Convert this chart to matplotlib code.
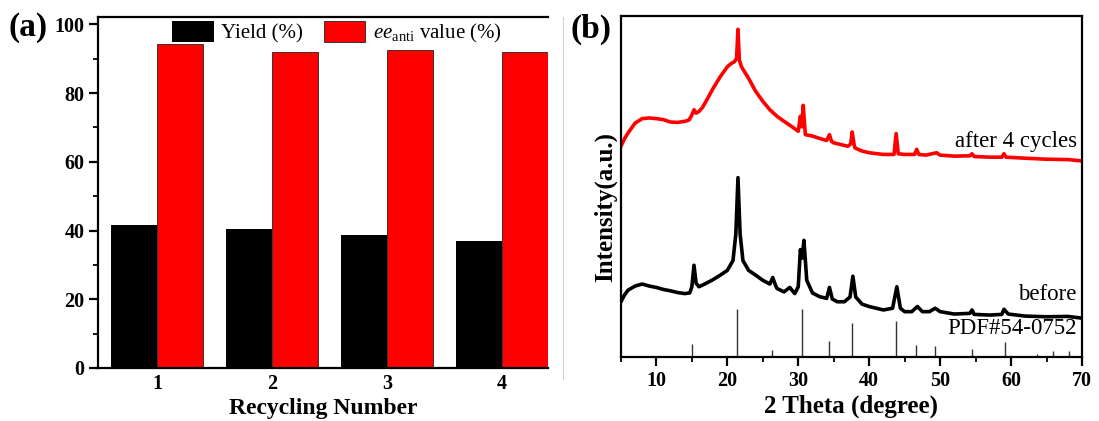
import matplotlib
matplotlib.use('Agg')
import matplotlib.pyplot as plt
from matplotlib.ticker import MultipleLocator
import numpy as np

plt.rcParams['font.family'] = ['Liberation Serif', 'DejaVu Serif']
plt.rcParams['mathtext.fontset'] = 'custom'
plt.rcParams['mathtext.rm'] = 'Liberation Serif'
plt.rcParams['mathtext.it'] = 'Liberation Serif:italic'

# Recycling data
cycles = [1, 2, 3, 4]
yield_pct = [41.7, 40.4, 38.7, 36.9]
ee_anti = [94.2, 92.0, 92.6, 92.0]

# XRD pattern after 4 cycles (2 theta, a.u.)
after_2theta = [5, 5.5, 6, 7, 8, 9, 10, 11, 12, 13, 14, 14.6, 15, 15.3, 15.6, 16, 16.5, 17,
                18, 19, 20, 20.5, 21, 21.3, 21.5, 21.7, 22, 23, 24, 25, 26, 27, 28, 29, 30,
                30.3, 30.5, 30.7, 31, 32, 33, 34, 34.4, 34.7, 35, 36, 37, 37.4, 37.6, 37.9,
                38, 39, 40, 42, 43.5, 43.8, 44.1, 45, 46.4, 46.7, 47, 48, 49.5, 50, 52,
                54.2, 54.5, 54.8, 57, 58.7, 59, 59.3, 62, 65, 68, 70]
after_int = [61.8, 64.0, 65.7, 68.6, 69.9, 70.1, 69.9, 69.6, 68.9, 68.8, 69.1, 69.5, 71.0,
             72.5, 71.5, 72.0, 73.2, 75.0, 78.8, 82.2, 85.1, 86.0, 86.6, 87.5, 96.1, 87.0,
             85.1, 81.7, 77.9, 75.0, 72.5, 70.6, 69.1, 67.7, 66.2, 70.6, 67.5, 73.8, 65.2,
             64.8, 64.1, 63.5, 65.2, 63.2, 62.8, 62.3, 61.8, 62.5, 66.0, 62.0, 61.3, 60.4,
             59.9, 59.4, 59.4, 65.5, 59.6, 59.4, 59.4, 60.9, 59.4, 59.2, 59.9, 59.2, 58.9,
             59.0, 59.6, 58.8, 58.6, 58.6, 59.6, 58.6, 58.3, 58.0, 57.9, 57.5]

# XRD pattern before use
before_2theta = [5, 5.5, 6, 7, 8, 9, 10, 11, 12, 13, 14, 14.7, 15, 15.3, 15.6, 16, 17, 18,
                 19, 20, 20.8, 21.2, 21.5, 21.8, 22.2, 23, 24, 25, 26, 26.4, 26.8, 27, 28,
                 28.8, 29.5, 30, 30.3, 30.55, 30.8, 31.2, 32, 33, 34, 34.4, 34.8, 35.5,
                 36.5, 37.3, 37.7, 38.1, 39, 40, 41, 42, 43.3, 43.9, 44.4, 45, 46, 46.8,
                 47.5, 48.5, 49.3, 50, 52, 54.2, 54.5, 54.8, 57, 58.7, 59, 59.6, 62, 65,
                 68, 70]
before_int = [16.2, 18.2, 19.6, 20.8, 21.4, 20.8, 20.4, 19.8, 19.4, 18.9, 18.6, 18.8, 20.6,
              26.9, 21.6, 20.6, 21.6, 22.7, 24.0, 25.4, 28.3, 36.1, 52.6, 36.1, 28.3, 25.4,
              24.0, 22.5, 21.4, 23.3, 21.0, 20.1, 19.1, 20.4, 18.6, 20.6, 31.5, 29.0, 34.2,
              22.5, 18.8, 17.7, 17.2, 20.4, 17.0, 16.2, 16.2, 17.6, 23.7, 17.6, 15.5, 14.8,
              14.3, 13.8, 14.3, 20.6, 14.3, 13.3, 13.3, 14.8, 13.3, 13.3, 14.3, 13.3, 12.6,
              12.8, 13.8, 12.5, 12.3, 12.5, 14.0, 12.6, 12.0, 11.8, 11.9, 11.4]

# Reference pattern PDF#54-0752
ref_2theta = [15.0, 21.4, 26.3, 30.5, 34.3, 37.6, 43.8, 46.6, 49.3, 54.5, 59.2, 63.7, 65.9, 68.2]
ref_int = [3.8, 14.0, 2.1, 14.0, 4.8, 9.9, 10.7, 3.5, 3.1, 2.3, 4.3, 1.0, 1.7, 1.9]

fig = plt.figure(figsize=(10.99, 4.21), dpi=100)

# ---- (a) recycling bar chart ----
ax1 = fig.add_axes([0.0895, 0.126, 0.4095, 0.834])
x = np.array(cycles)
width = 0.4
ax1.bar(x - width / 2, yield_pct, width, color='black', label='Yield (%)')
ax1.bar(x + width / 2, ee_anti, width, color='#ff0000', edgecolor='#222222', linewidth=0.6,
        label=r'$\mathit{ee}_{\mathrm{anti}}$ value (%)')
ax1.set_xlim(0.49, 4.405)
ax1.set_ylim(0, 102.2)
ax1.set_xticks(cycles)
ax1.yaxis.set_major_locator(MultipleLocator(20))
ax1.yaxis.set_minor_locator(MultipleLocator(10))
ax1.tick_params(axis='both', which='major', direction='out', length=6.5, width=1.6,
                labelsize=14.5)
ax1.tick_params(axis='y', which='minor', direction='out', length=3.5, width=1.3)
ax1.tick_params(axis='x', length=0, pad=4)
for lab in ax1.get_xticklabels() + ax1.get_yticklabels():
    lab.set_fontweight('bold')
for side in ['left', 'bottom', 'top']:
    ax1.spines[side].set_linewidth(1.6)
ax1.spines['right'].set_visible(False)
ax1.set_xlabel('Recycling Number', fontsize=17, fontweight='bold', labelpad=3)
ax1.legend(loc='upper center', bbox_to_anchor=(0.53, 1.012), ncol=2, frameon=False,
           fontsize=15, handlelength=2.0, handleheight=1.2, columnspacing=1.0,
           handletextpad=0.35, borderaxespad=0)
fig.text(0.008, 0.935, '(a)', fontsize=24, fontweight='bold', va='center')

# ---- (b) XRD patterns ----
ax2 = fig.add_axes([0.565, 0.152, 0.4195, 0.81])
ax2.plot(after_2theta, after_int, color='#ff0000', linewidth=2.6)
ax2.plot(before_2theta, before_int, color='black', linewidth=2.6)
ax2.vlines(ref_2theta, 0, ref_int, color='#333333', linewidth=1.0)
ax2.set_xlim(5, 70)
ax2.set_ylim(0, 100)
ax2.xaxis.set_major_locator(MultipleLocator(10))
ax2.xaxis.set_minor_locator(MultipleLocator(5))
ax2.set_yticks([])
ax2.tick_params(axis='x', which='major', direction='out', length=6.5, width=1.6,
                labelsize=14.5)
ax2.tick_params(axis='x', which='minor', direction='out', length=3.5, width=1.3)
for lab in ax2.get_xticklabels():
    lab.set_fontweight('bold')
for side in ax2.spines.values():
    side.set_linewidth(1.6)
ax2.set_xlabel('2 Theta (degree)', fontsize=18, fontweight='bold', labelpad=3)
ax2.set_ylabel('Intensity(a.u.)', fontsize=18, fontweight='bold')
ax2.yaxis.set_label_coords(-0.008, 0.44)
ax2.text(0.989, 0.633, 'after 4 cycles', transform=ax2.transAxes, ha='right', va='center',
         fontsize=16.5)
ax2.text(0.989, 0.182, 'before', transform=ax2.transAxes, ha='right', va='center',
         fontsize=16.5)
ax2.text(0.989, 0.085, 'PDF#54-0752', transform=ax2.transAxes, ha='right', va='center',
         fontsize=16.5)
fig.text(0.519, 0.93, '(b)', fontsize=24, fontweight='bold', va='center')

# thin divider between the panels
fig.add_artist(plt.Line2D([0.512, 0.512], [0.1, 0.96], color='#d0d0d0', linewidth=0.8))

plt.savefig('out.png', dpi=100)
plt.close()
